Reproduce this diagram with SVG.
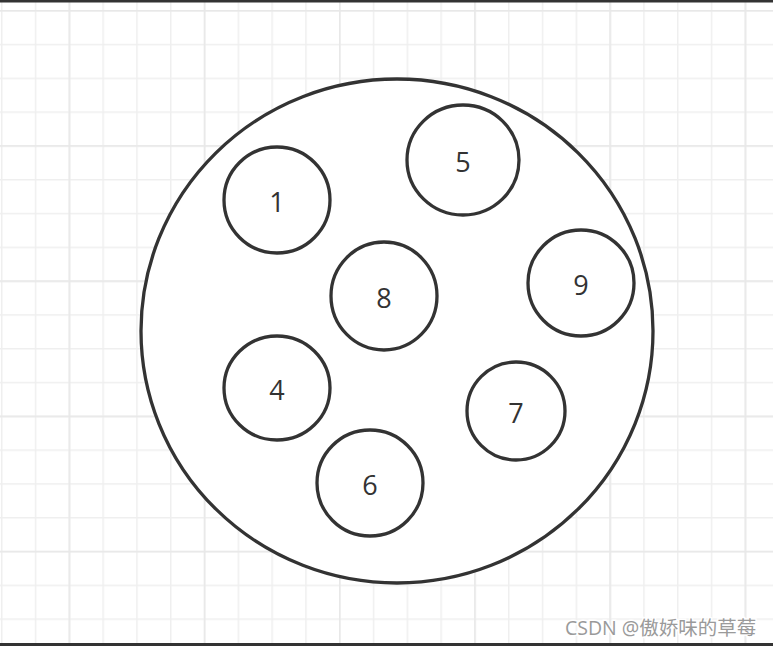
<svg xmlns="http://www.w3.org/2000/svg" width="773" height="646" viewBox="0 0 773 646">
<defs>
<pattern id="minor" x="1" y="10" width="33.8" height="33.8" patternUnits="userSpaceOnUse">
<path d="M0 0V33.8M0 0H33.8" fill="none" stroke="#efefef" stroke-width="3"/>
</pattern>
<pattern id="major" x="68.6" y="10" width="135.2" height="135.2" patternUnits="userSpaceOnUse">
<path d="M0 0V135.2M0 0H135.2" fill="none" stroke="#e8e8e8" stroke-width="3"/>
</pattern>
</defs>
<style>
.c{fill:#fff;stroke:#333;stroke-width:3.3}
.t{font-family:"Open Sans","Noto Sans",sans-serif;font-size:27px;fill:#333;text-anchor:middle;dominant-baseline:central}
.wm{font-family:"Open Sans","Noto Sans CJK SC",sans-serif;font-size:19.5px;fill:#9a9a9a;stroke:#fff;stroke-width:3;paint-order:stroke}
</style>
<rect width="773" height="646" fill="#fff"/>
<rect width="773" height="646" fill="url(#minor)"/>
<rect width="773" height="646" fill="url(#major)"/>
<rect x="0" y="0" width="773" height="2.5" fill="#333"/>
<rect x="0" y="643" width="773" height="3" fill="#333"/>
<g id="outer"><ellipse class="c" cx="397" cy="331" rx="256" ry="252"/></g>
<g id="n1"><ellipse class="c" cx="277" cy="200" rx="53" ry="53"/><text class="t" x="277" y="201">1</text></g>
<g id="n5"><ellipse class="c" cx="463" cy="160" rx="56" ry="55"/><text class="t" x="463" y="161">5</text></g>
<g id="n8"><ellipse class="c" cx="384" cy="296" rx="53" ry="54"/><text class="t" x="384" y="297">8</text></g>
<g id="n9"><ellipse class="c" cx="581" cy="283" rx="53" ry="53"/><text class="t" x="581" y="284">9</text></g>
<g id="n4"><ellipse class="c" cx="277" cy="388" rx="53" ry="52"/><text class="t" x="277" y="389">4</text></g>
<g id="n7"><ellipse class="c" cx="516" cy="411" rx="49" ry="49"/><text class="t" x="516" y="412">7</text></g>
<g id="n6"><ellipse class="c" cx="370" cy="483" rx="53" ry="53"/><text class="t" x="370" y="484">6</text></g>
<g id="connectors"></g>
<text class="wm" x="565" y="635">CSDN @傲娇味的草莓</text>
</svg>
